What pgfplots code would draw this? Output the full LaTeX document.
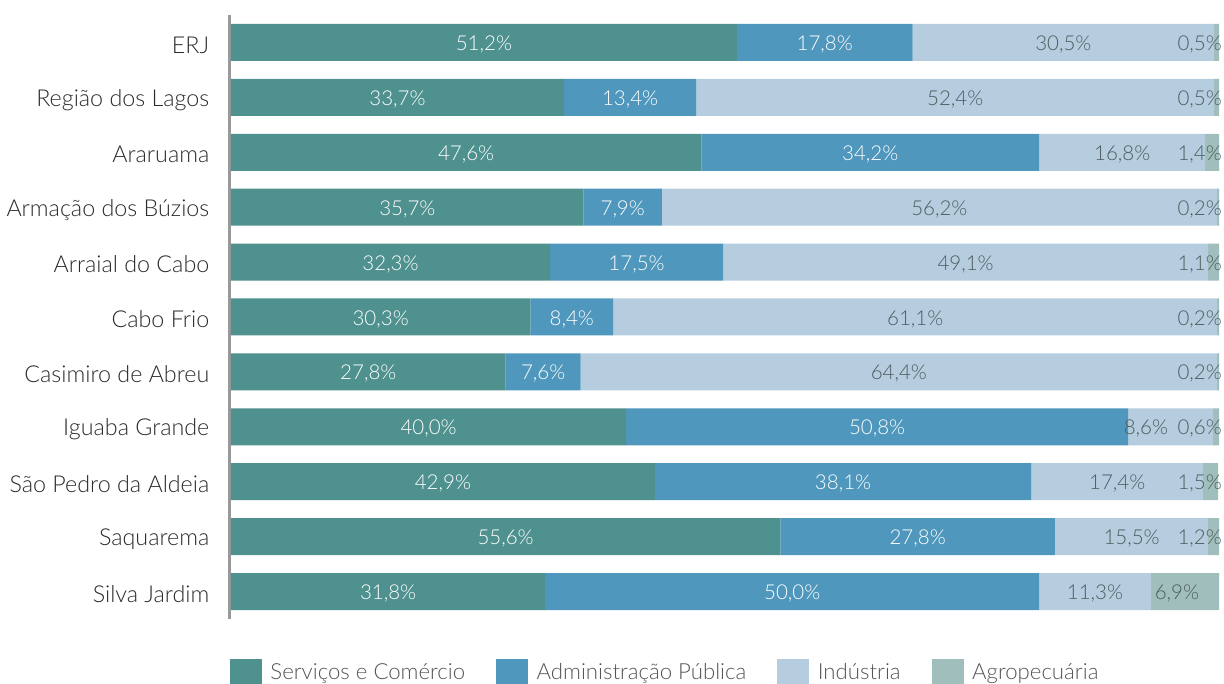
\documentclass[border=0pt]{standalone}
\usepackage{pgfplots}
\pgfplotsset{compat=1.18}
\usepackage{pgfplotstable}
\usepackage{fontspec}
\setmainfont{Lato}[UprightFont={* Light}]
\definecolor{cserv}{HTML}{4F918E}
\definecolor{cadm}{HTML}{4F97BC}
\definecolor{cind}{HTML}{B6CDE0}
\definecolor{cagro}{HTML}{A0BEBB}
\definecolor{labdark}{HTML}{4D5E5E}
\definecolor{ticktxt}{HTML}{2A2A2A}
\definecolor{legtxt}{HTML}{555555}

\pgfplotstableread{
y serv adm ind agro
0 51.2 17.8 30.5 0.5
1 33.7 13.4 52.4 0.5
2 47.6 34.2 16.8 1.4
3 35.7 7.9 56.2 0.2
4 32.3 17.5 49.1 1.1
5 30.3 8.4 61.1 0.2
6 27.8 7.6 64.4 0.2
7 40.0 50.8 8.6 0.6
8 42.9 38.1 17.4 1.5
9 55.6 27.8 15.5 1.2
10 31.8 50.0 11.3 6.9
}\data

% white labels (centred in the two dark segments)
\pgfplotstableread{
x y lab
25.6 0 51,2
60.1 0 17,8
16.85 1 33,7
40.4 1 13,4
23.8 2 47,6
64.7 2 34,2
17.85 3 35,7
39.65 3 7,9
16.15 4 32,3
41.05 4 17,5
15.15 5 30,3
34.5 5 8,4
13.9 6 27,8
31.6 6 7,6
20.0 7 40,0
65.4 7 50,8
21.45 8 42,9
61.95 8 38,1
27.8 9 55,6
69.5 9 27,8
15.9 10 31,8
56.8 10 50,0
}\labwhite

% dark labels centred (Industria)
\pgfplotstableread{
x y lab
84.25 0 30,5
73.3 1 52,4
90.2 2 16,8
71.7 3 56,2
74.35 4 49,1
69.25 5 61,1
67.6 6 64,4
92.6 7 8,6
89.7 8 17,4
91.15 9 15,5
87.45 10 11,3
}\labind

% dark labels right-aligned (Agropecuaria)
\pgfplotstableread{
x y lab
100.3 0 0,5
100.3 1 0,5
100.3 2 1,4
100.3 3 0,2
100.3 4 1,1
100.3 5 0,2
100.3 6 0,2
100.3 7 0,6
100.3 8 1,5
100.3 9 1,2
98.0 10 6,9
}\labagro

\pgfplotsset{
  common/.style={
    scale only axis,
    width=989.5pt, height=604pt,
    xmin=-0.15, xmax=100,
    ymin=-0.5, ymax=10.5,
    y dir=reverse,
    at={(0pt,0pt)}, anchor=south west,
  },
}

\begin{document}
\begin{tikzpicture}
\useasboundingbox (-229.5pt,-65pt) rectangle (994.5pt,619pt);
\begin{axis}[
  common,
  xbar stacked,
  bar width=37pt,
  axis x line=none,
  axis y line*=left,
  y axis line style={draw=black!40, line width=3pt},
  ytick={0,...,10},
  yticklabels={ERJ,Região dos Lagos,Araruama,Armação dos Búzios,Arraial do Cabo,Cabo Frio,Casimiro de Abreu,Iguaba Grande,São Pedro da Aldeia,Saquarema,Silva Jardim},
  major tick length=0pt,
  yticklabel style={font=\fontsize{23.3}{26}\selectfont, text=ticktxt, anchor=east, inner sep=0pt, xshift=-20pt, yshift=-2.5pt},
  legend columns=4,
  legend image code/.code={\fill[#1] (0pt,-13pt) rectangle (32pt,13pt);},
  legend style={at={(0,0)}, anchor=west, yshift=-53pt, xshift=0.5pt, draw=none, fill=none,
    inner sep=0pt, outer sep=0pt,
    font=\fontsize{22.2}{26}\selectfont, text=legtxt,
    nodes={inner sep=0pt},
    column sep=8.5pt,
    /tikz/every even column/.append style={column sep=31pt}},
]
\addplot[fill=cserv, draw=none] table[x=serv, y=y]{\data};
\addplot[fill=cadm, draw=none] table[x=adm, y=y]{\data};
\addplot[fill=cind, draw=none] table[x=ind, y=y]{\data};
\addplot[fill=cagro, draw=none] table[x=agro, y=y]{\data};
\legend{Serviços e Comércio,Administração Pública,Indústria,Agropecuária}
\end{axis}
\begin{axis}[
  common,
  hide axis,
  clip=false,
]
\addplot[draw=none, mark=none, nodes near coords={\pgfplotspointmeta\%}, point meta=explicit symbolic,
  nodes near coords style={anchor=center, text=white, font=\fontsize{20.5}{24}\selectfont, inner sep=0pt, yshift=-2pt}]
  table[x=x, y=y, meta=lab]{\labwhite};
\addplot[draw=none, mark=none, nodes near coords={\pgfplotspointmeta\%}, point meta=explicit symbolic,
  nodes near coords style={anchor=center, text=labdark, font=\fontsize{20.5}{24}\selectfont, inner sep=0pt, yshift=-2pt}]
  table[x=x, y=y, meta=lab]{\labind};
\addplot[draw=none, mark=none, nodes near coords={\pgfplotspointmeta\%}, point meta=explicit symbolic,
  nodes near coords style={anchor=east, text=labdark, font=\fontsize{20.5}{24}\selectfont, inner sep=0pt, yshift=-2pt}]
  table[x=x, y=y, meta=lab]{\labagro};
\end{axis}
\end{tikzpicture}
\end{document}
